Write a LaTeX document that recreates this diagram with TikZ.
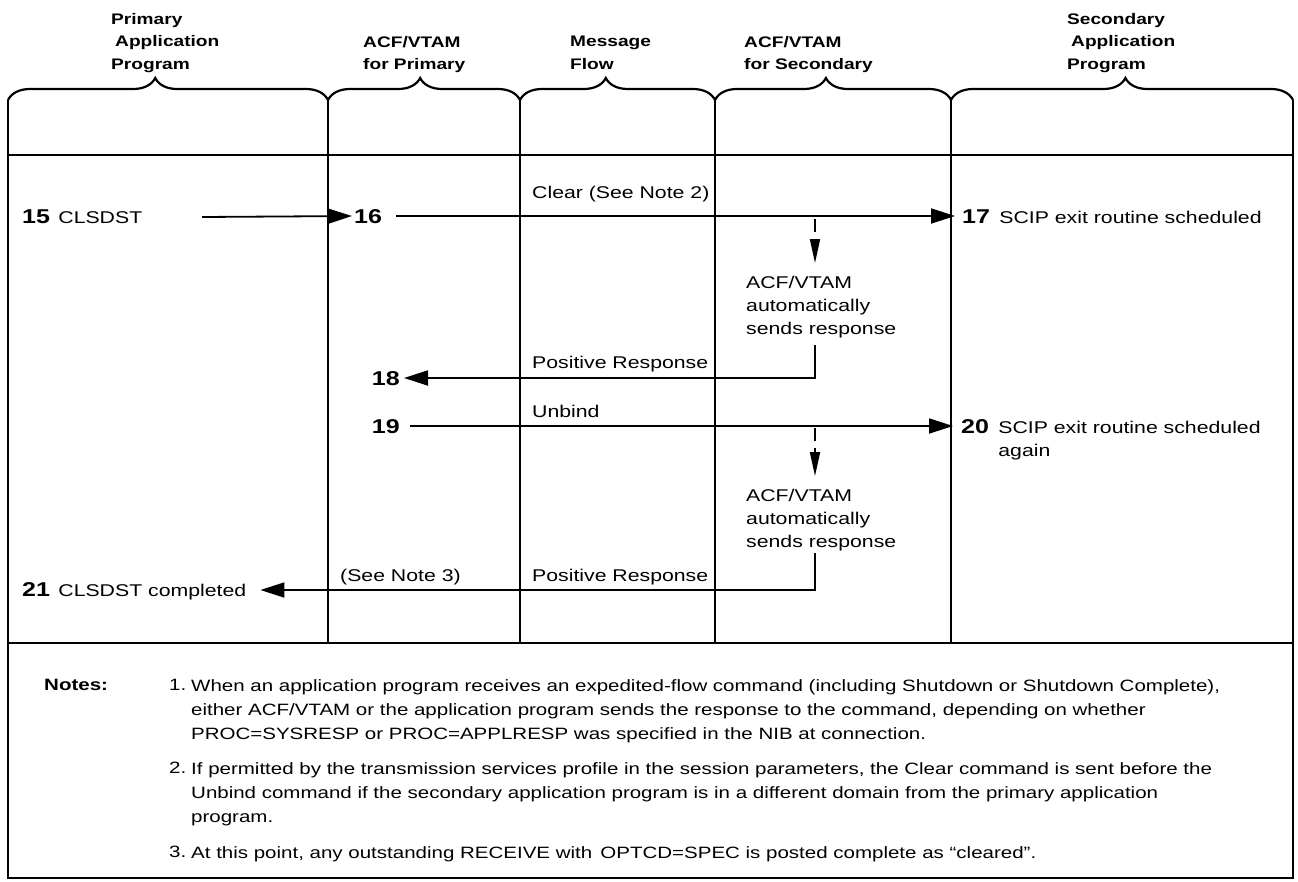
\documentclass[tikz,border=0pt]{standalone}
\usepackage{fontspec}
\setmainfont{Liberation Sans}[FakeStretch=1.25]
\usetikzlibrary{arrows.meta,decorations.pathreplacing,positioning}

\newcommand{\hdrfont}{\fontsize{15.3}{22.5}\selectfont\bfseries}
\newcommand{\txtfont}{\fontsize{17}{23}\selectfont}
\newcommand{\numfont}{\fontsize{20}{23}\selectfont\bfseries}
\newcommand{\notefont}{\fontsize{16.4}{24}\selectfont}

\tikzset{
  frame/.style={line width=2.2pt},
  flow/.style={line width=1.8pt},
  hdr/.style={anchor=north west,align=left,inner sep=0pt,font=\hdrfont},
  lbl/.style={anchor=base west,inner sep=0pt,text height=12pt,text depth=0pt,font=\txtfont},
  num/.style={anchor=base west,inner sep=0pt,text height=14pt,text depth=0pt,font=\numfont},
  ack/.style={anchor=north west,align=left,inner sep=0pt,font=\txtfont},
  note/.style={anchor=north west,align=left,inner sep=0pt,font=\notefont},
  head/.style={-{Triangle[length=24pt,width=15pt]}},
  dhead/.style={dash pattern=on 13pt off 7pt,-{Triangle[length=24pt,width=10pt]}},
  col/.style={decorate,decoration={brace,amplitude=22pt,aspect=#1}}
}

\begin{document}
\begin{tikzpicture}[x=1pt,y=-1pt]
  \useasboundingbox (0,0) rectangle (1298,881);

  % column braces and frame
  \foreach \xl/\xr/\asp in {8/328/0.46,328/520/0.48,520/715/0.44,715/951/0.47,951/1293/0.51}
    \draw[frame,col=\asp] (\xl,100) -- (\xr,100);
  \foreach \x in {328,520,715,951} \draw[frame] (\x,100) -- (\x,643);
  \draw[frame] (8,100) -- (8,878) -- (1293,878) -- (1293,100);
  \draw[frame] (8,155) -- (1293,155);
  \draw[frame] (8,643) -- (1293,643);

  % column titles
  \node[hdr] (hpri) at (111,13) {Primary\\\hspace*{4pt}Application\\Program};
  \node[hdr] (hvp) at (363,36) {ACF/VTAM\\for Primary};
  \node[hdr] (hmf) at (570,36) {Message\\Flow};
  \node[hdr] (hvs) at (744,36) {ACF/VTAM\\for Secondary};
  \node[hdr] (hsec) at (1067,13) {Secondary\\\hspace*{4pt}Application\\Program};

  % steps 15 - 17
  \node[num] (n15) at (22,223) {15};
  \node[lbl,right=8pt of n15.base east,anchor=base west] (t15) {CLSDST};
  \coordinate (s15) at (202,217);
  \node[num] (n16) at (354,223) {16};
  \draw[flow,head,shorten >=2pt] (s15) -- (n16.west);
  \node[num] (n17) at (962,223) {17};
  \node[lbl,right=9pt of n17.base east,anchor=base west] (t17) {SCIP exit routine scheduled};
  \draw[flow,head,shorten >=7pt] ([xshift=14pt]n16.east) -- (n17.west);
  \node[lbl] (clr) at (532,198) {Clear (See Note 2)};

  % first automatic response
  \coordinate (d1) at (815,219);
  \coordinate (d1e) at (815,263);
  \draw[flow,dhead] (d1) -- (d1e);
  \node[ack] (ack1) at (746,276) {ACF/VTAM\\automatically\\sends response};
  \coordinate (r1) at (815,345);
  \node[num,anchor=base east] (n18) at (400,385) {18};
  \draw[flow,head,shorten >=4pt] (r1) |- (n18.east);
  \node[lbl] (pr1) at (532,368) {Positive Response};

  % steps 19 - 20
  \node[lbl] (unb) at (532,417) {Unbind};
  \node[num,anchor=base east] (n19) at (400,433) {19};
  \node[num] (n20) at (961,433) {20};
  \node[lbl,right=9pt of n20.base east,anchor=base west] (t20) {SCIP exit routine scheduled};
  \node[lbl] (t20b) at ([yshift=-23pt]t20.base west) {again};
  \draw[flow,head,shorten >=8pt] ([xshift=10pt]n19.east) -- (n20.west);

  % second automatic response
  \coordinate (d2) at (815,428);
  \coordinate (d2e) at (815,476);
  \draw[flow,dhead] (d2) -- (d2e);
  \node[ack] (ack2) at (746,489) {ACF/VTAM\\automatically\\sends response};
  \coordinate (r2) at (815,553);
  \node[num] (n21) at (22,596) {21};
  \node[lbl,right=8pt of n21.base east,anchor=base west] (t21) {CLSDST completed};
  \draw[flow,head,shorten >=14pt] (r2) |- (t21.east);
  \node[lbl] (pr2) at (532,581) {Positive Response};
  \node[lbl] (sn3) at (340,581) {(See Note 3)};

  % notes
  \node[note,font=\notefont\bfseries] (ntitle) at (44,679) {Notes:};
  \node[note] (k1) at (169,679) {1.};
  \node[note] (note1) at (191,679) {When an application program receives an expedited-flow command (including Shutdown or Shutdown Complete),\\
    either ACF/VTAM or the application program sends the response to the command, depending on whether\\
    PROC=SYSRESP or PROC=APPLRESP was specified in the NIB at connection.};
  \node[note] (k2) at (169,762) {2.};
  \node[note] (note2) at (191,762) {If permitted by the transmission services profile in the session parameters, the Clear command is sent before the\\
    Unbind command if the secondary application program is in a different domain from the primary application\\
    program.};
  \node[note] (k3) at (169,846) {3.};
  \node[note] (note3) at (191,846) {At this point, any outstanding RECEIVE with\enspace OPTCD=SPEC is posted complete as ``cleared''.};
\end{tikzpicture}
\end{document}
